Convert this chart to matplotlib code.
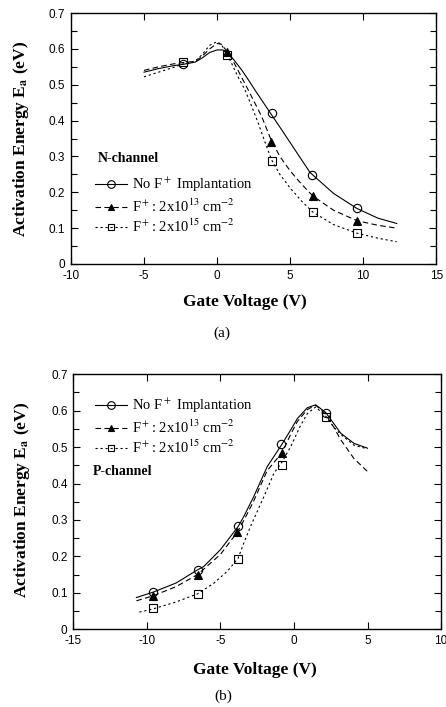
import numpy as np
import matplotlib
matplotlib.use('Agg')
import matplotlib.pyplot as plt
from matplotlib.lines import Line2D
from matplotlib.ticker import MultipleLocator, FixedLocator, FixedFormatter

plt.rcParams.update({
    'font.family': 'Liberation Serif',
    'mathtext.fontset': 'stix',
    'axes.linewidth': 1.0,
    'xtick.direction': 'in',
    'ytick.direction': 'in',
    'xtick.top': True,
    'ytick.right': True,
})

# ── Panel (a): N-channel ─────────────────────────────────────────────────────
# fitted curves
a_none_xf = [-5.0, -4.0, -3.0, -2.3, -1.5, -1.0, -0.5, 0.0, 0.4, 0.77, 1.2,
             1.69, 2.14, 2.6, 3.29, 3.7, 4.43, 5.34, 6.37, 7.97, 9.57, 11.0,
             12.3]
a_none_fit = [0.535, 0.545, 0.553, 0.557, 0.563, 0.575, 0.590, 0.597, 0.597,
              0.588, 0.567, 0.541, 0.514, 0.485, 0.443, 0.418, 0.374, 0.318,
              0.255, 0.197, 0.155, 0.128, 0.113]
a_13_xf = [-5.0, -4.0, -3.0, -2.3, -1.5, -1.0, -0.5, 0.0, 0.3, 0.7, 1.0, 1.5,
           2.14, 2.6, 3.06, 3.7, 4.3, 5.0, 5.8, 6.55, 7.97, 9.57, 11.0, 12.3]
a_13_fit = [0.540, 0.550, 0.558, 0.562, 0.565, 0.580, 0.600, 0.615, 0.613,
            0.592, 0.574, 0.535, 0.485, 0.448, 0.411, 0.346, 0.300, 0.260,
            0.222, 0.190, 0.150, 0.121, 0.108, 0.100]
a_15_xf = [-5.0, -4.0, -3.0, -2.3, -1.5, -1.0, -0.5, 0.0, 0.3, 0.7, 0.89, 1.4,
           1.92, 2.4, 2.83, 3.3, 3.74, 4.3, 5.0, 5.8, 6.55, 7.97, 9.57, 11.0,
           12.3]
a_15_fit = [0.522, 0.535, 0.548, 0.558, 0.565, 0.585, 0.610, 0.620, 0.612,
            0.585, 0.569, 0.525, 0.485, 0.437, 0.392, 0.338, 0.290, 0.250,
            0.212, 0.175, 0.145, 0.110, 0.086, 0.072, 0.062]

# measured points
a_none_x = [-2.3, 3.75, 6.5, 9.57]
a_none_y = [0.557, 0.420, 0.248, 0.155]
a_13_x = [0.7, 3.7, 6.55, 9.57]
a_13_y = [0.592, 0.341, 0.190, 0.121]
a_15_x = [-2.3, 0.7, 3.75, 6.55, 9.57]
a_15_y = [0.563, 0.583, 0.288, 0.145, 0.086]

# ── Panel (b): P-channel ─────────────────────────────────────────────────────
b_none_xf = [-10.7, -9.55, -8.0, -6.55, -6.13, -5.0, -3.79, -3.41, -2.73,
             -1.82, -0.84, -0.22, 0.23, 0.91, 1.48, 2.16, 2.7, 3.18, 4.09, 5.0]
b_none_fit = [0.087, 0.102, 0.127, 0.163, 0.172, 0.218, 0.282, 0.309, 0.364,
              0.446, 0.506, 0.547, 0.578, 0.608, 0.616, 0.595, 0.565, 0.538,
              0.510, 0.497]
b_13_xf = [-10.7, -9.55, -8.0, -6.55, -5.0, -3.85, -3.41, -2.73, -1.82, -0.8,
           -0.22, 0.23, 0.91, 1.48, 2.16, 2.7, 3.18, 4.09, 5.0]
b_13_fit = [0.078, 0.092, 0.117, 0.150, 0.205, 0.266, 0.298, 0.352, 0.435,
            0.485, 0.535, 0.570, 0.603, 0.615, 0.590, 0.555, 0.520, 0.468,
            0.433]
b_15_xf = [-10.5, -9.55, -8.0, -6.55, -5.45, -4.5, -3.79, -3.41, -2.95, -2.04,
           -1.36, -0.79, -0.22, 0.4, 0.91, 1.48, 2.16, 2.7, 3.18, 4.09, 5.0]
b_15_fit = [0.047, 0.056, 0.075, 0.097, 0.126, 0.160, 0.195, 0.236, 0.282,
            0.364, 0.428, 0.460, 0.501, 0.555, 0.592, 0.610, 0.585, 0.555,
            0.535, 0.505, 0.495]

b_none_x = [-9.55, -6.55, -3.82, -0.86, 2.16]
b_none_y = [0.103, 0.163, 0.282, 0.508, 0.594]
b_13_x = [-9.55, -6.55, -3.85, -0.8]
b_13_y = [0.091, 0.148, 0.266, 0.483]
b_15_x = [-9.55, -6.55, -3.82, -0.8, 2.16]
b_15_y = [0.057, 0.097, 0.193, 0.451, 0.582]

LEG_LABELS = ['No F$^+$ Implantation',
              'F$^+$: 2x10$^{13}$ cm$^{-2}$',
              'F$^+$: 2x10$^{15}$ cm$^{-2}$']

DASH = (0, (5, 3))
DOT = (0, (2, 2.5))
STYLES = [
    dict(ls='-', marker='o', mfc='none', mec='k', ms=6),
    dict(ls=DASH, marker='^', mfc='k', mec='k', ms=5.5),
    dict(ls=DOT, marker='s', mfc='none', mec='k', ms=5.5),
]

TICK_FONT = dict(family='Liberation Sans', size=8.5)
LABEL_FONT = dict(family='Liberation Serif', size=12.5, weight='bold')

fig = plt.figure(figsize=(4.46, 7.07), dpi=100)
ax1 = fig.add_axes([0.159, 0.6266, 0.819, 0.355])
ax2 = fig.add_axes([0.164, 0.110, 0.825, 0.3607])


def draw_panel(ax, fits, pts):
    for (xf, yf), st in zip(fits, STYLES):
        ax.plot(xf, yf, color='k', lw=0.8, ls=st['ls'], zorder=2)
    for (px, py), st in zip(pts, STYLES):
        ax.plot(px, py, ls='none', marker=st['marker'], ms=st['ms'],
                mfc=st['mfc'], mec=st['mec'], mew=0.8, zorder=3)


def style_axes(ax, xticks):
    ax.set_ylim(0, 0.7)
    ax.set_xlim(xticks[0], xticks[-1])
    ax.xaxis.set_major_locator(FixedLocator(xticks))
    ax.xaxis.set_major_formatter(FixedFormatter(['%d' % t for t in xticks]))
    ax.yaxis.set_major_locator(FixedLocator(np.arange(0, 0.75, 0.1)))
    ax.yaxis.set_minor_locator(MultipleLocator(0.05))
    ax.yaxis.set_major_formatter(
        FixedFormatter(['0'] + ['%.1f' % v for v in np.arange(0.1, 0.75, 0.1)]))
    ax.tick_params(axis='both', which='major', length=5, width=0.8, pad=4)
    ax.tick_params(axis='y', which='minor', length=4, width=0.8)
    for lab in ax.get_xticklabels() + ax.get_yticklabels():
        lab.set_fontfamily(TICK_FONT['family'])
        lab.set_fontsize(TICK_FONT['size'])
    ax.set_xlabel('Gate Voltage (V)', **LABEL_FONT)
    ax.set_ylabel(r'Activation Energy E$_{\mathbf{a}}$ (eV)', **LABEL_FONT)


def add_legend(ax, anchor):
    handles = [Line2D([], [], color='k', lw=0.8, ls=st['ls'],
                      marker=st['marker'], ms=st['ms'] - 0.5, mfc=st['mfc'],
                      mec='k', mew=0.8) for st in STYLES]
    ax.legend(handles, LEG_LABELS, loc='upper left', bbox_to_anchor=anchor,
              frameon=False, borderpad=0, borderaxespad=0, handlelength=2.2,
              handletextpad=0.35, labelspacing=0.22,
              prop={'family': 'Liberation Serif', 'size': 10.5})


# panel (a)
draw_panel(ax1, [(a_none_xf, a_none_fit), (a_13_xf, a_13_fit),
                 (a_15_xf, a_15_fit)],
           [(a_none_x, a_none_y), (a_13_x, a_13_y), (a_15_x, a_15_y)])
style_axes(ax1, [-10, -5, 0, 5, 10, 15])
ax1.xaxis.set_label_coords(0.477, -0.12)
ax1.yaxis.set_label_coords(-0.108, 0.50)
add_legend(ax1, (0.066, 0.35))
ax1.text(0.074, 0.42, 'N-channel', transform=ax1.transAxes, fontsize=10,
         fontweight='bold', va='center', ha='left')

# panel (b)
draw_panel(ax2, [(b_none_xf, b_none_fit), (b_13_xf, b_13_fit),
                 (b_15_xf, b_15_fit)],
           [(b_none_x, b_none_y), (b_13_x, b_13_y), (b_15_x, b_15_y)])
style_axes(ax2, [-15, -10, -5, 0, 5, 10])
ax2.xaxis.set_label_coords(0.494, -0.13)
ax2.yaxis.set_label_coords(-0.113, 0.507)
add_legend(ax2, (0.059, 0.91))
ax2.text(0.053, 0.618, 'P-channel', transform=ax2.transAxes, fontsize=10,
         fontweight='bold', va='center', ha='left')

fig.text(0.497, 0.5286, '(a)', ha='center', va='center', fontsize=11)
fig.text(0.5007, 0.0146, '(b)', ha='center', va='center', fontsize=11)

fig.savefig('out.png', dpi=100)
